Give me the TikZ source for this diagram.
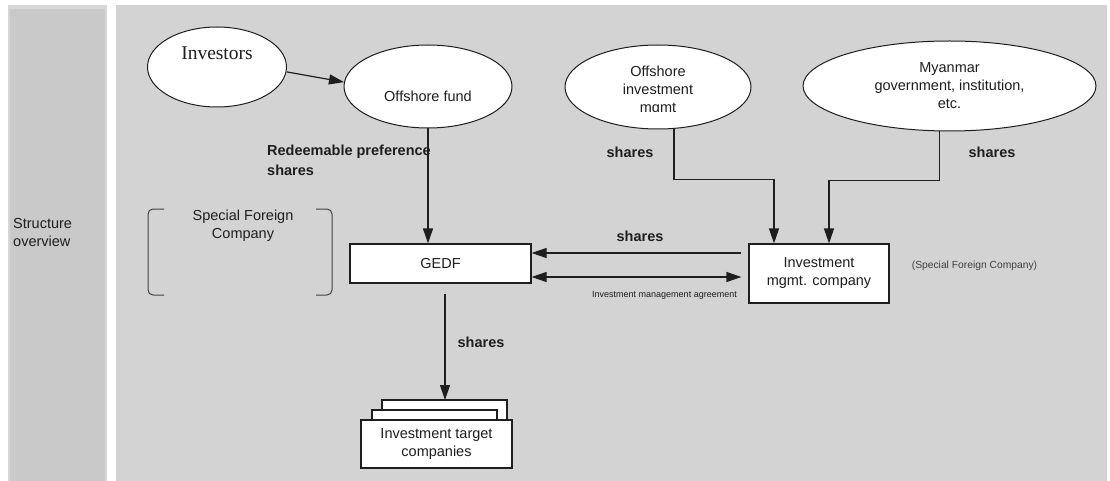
\documentclass[tikz,border=0pt]{standalone}
\usepackage{fontspec}
\setmainfont{Liberation Sans}
\newfontfamily\serifface{Liberation Serif}
\usetikzlibrary{shapes.geometric,arrows.meta}
\definecolor{panel}{HTML}{D3D3D3}
\definecolor{strip}{HTML}{C9C9C9}
\definecolor{stripedge}{HTML}{D6D6D6}
\definecolor{ink}{HTML}{1E1E1E}
\tikzset{
  base/.style={font=\fontsize{14.5}{18}\selectfont, text=ink},
  ell/.style={ellipse, draw=ink, line width=1pt, fill=white, inner sep=0pt},
  box/.style={rectangle, draw=ink, line width=1.2pt, fill=white, align=center,
              inner sep=0pt, font=\fontsize{14.5}{18}\selectfont, text=ink},
  lbl/.style={font=\bfseries\fontsize{14.5}{20}\selectfont, text=ink, inner sep=0pt},
  link/.style={draw=ink, line width=1.2pt},
  tip/.tip={Triangle[length=15pt,width=10pt]},
  arr/.style={link, -tip},
  arrtwo/.style={link, tip-tip},
  bracket/.style={draw=ink!85, line width=1pt, rounded corners=5pt},
}
\begin{document}
\begin{tikzpicture}[x=1pt,y=-1pt]
  \useasboundingbox (0,0) rectangle (1110,481);
  \fill[white] (0,0) rectangle (1110,481);
  % side strip and main panel
  \fill[stripedge] (8,5) rectangle (107,481);
  \fill[strip] (10,9) rectangle (105,481);
  \fill[panel] (116,5) rectangle (1107,481);

  \node[base, align=left, anchor=west, inner sep=0pt] (side) at (13,233) {Structure\\overview};

  % owners
  \node[ell, minimum width=139pt, minimum height=80pt] (inv) at (217,67)
    {\raisebox{14pt}[\height][\depth]{\serifface\fontsize{19.5}{22}\selectfont\color{ink}Investors}};
  \node[ell, base, minimum width=168pt, minimum height=83pt] (fund) at (428,86.5)
    {\raisebox{-10pt}[\height][\depth]{Offshore fund}};
  \node[ell, minimum width=186pt, minimum height=84pt] (oim) at (658,87) {};
  \begin{scope}
    \clip (565,45) rectangle (751,111.5);
    \node[base, align=center, inner sep=0pt] (oimtext) at (658,91) {Offshore\\investment\\mgmt};
  \end{scope}
  \node[ell, base, align=center, minimum width=293pt, minimum height=90pt] (mya) at (949.5,86)
    {Myanmar\\government, institution,\\etc.};

  % companies
  \node[box, minimum width=181pt, minimum height=39pt] (gedf) at (440.5,263.5) {GEDF};
  \node[box, minimum width=140pt, minimum height=59pt] (imc) at (819,273.5) {Investment\\mgmt. company};
  \draw[fill=white, draw=ink, line width=1.2pt] (382,400) rectangle (507,421);
  \draw[fill=white, draw=ink, line width=1.2pt] (372,410) rectangle (497,421);
  \node[box, minimum width=151pt, minimum height=48pt] (tgt) at (436.5,444) {Investment target\\companies};
  \coordinate (stacktop) at (445,400);

  % special foreign company bracket
  \draw[bracket] (164,209) -- (148,209) -- (148,295) -- (164,295);
  \draw[bracket] (316,209) -- (332,209) -- (332,295) -- (316,295);
  \node[base, align=center, inner sep=0pt] (sfc) at (243,226) {Special Foreign\\Company};
  \node[font=\fontsize{10.3}{12}\selectfont, text=ink!85, inner sep=0pt] (sfcnote) at (974.5,266)
    {(Special Foreign Company)};

  % connectors
  \draw[arr] (inv.-4) -- (fund.177);
  \draw[arr] (fund.south) -- (fund.south |- gedf.north);
  \draw[arr] ([xshift=16pt]oim.south) -- ++(0,50) -| ([xshift=-45pt]imc.north);
  \draw[arr] ([xshift=-10pt]mya.south) -- ++(0,49) -| ([xshift=10pt]imc.north);
  \draw[arr] ([xshift=-7pt,yshift=20.5pt]imc.west) -- ([yshift=10.5pt]gedf.east);
  \draw[arrtwo] ([yshift=-13.5pt]gedf.east) -- ([xshift=-7pt,yshift=-3.5pt]imc.west);
  \draw[arr, shorten <=10pt] ([xshift=4.5pt]gedf.south) -- (stacktop);

  % connector labels
  \node[lbl, align=left, anchor=north west] (redeem) at (267,144.5) {Redeemable preference\\shares};
  \node[lbl] (sh1) at (630,152) {shares};
  \node[lbl] (sh2) at (992,152) {shares};
  \node[lbl] (sh3) at (640,236) {shares};
  \node[lbl] (sh4) at (481,342) {shares};
  \node[font=\fontsize{9}{10}\selectfont, text=ink, inner sep=0pt] (agr) at (664.5,295)
    {Investment management agreement};
\end{tikzpicture}
\end{document}
